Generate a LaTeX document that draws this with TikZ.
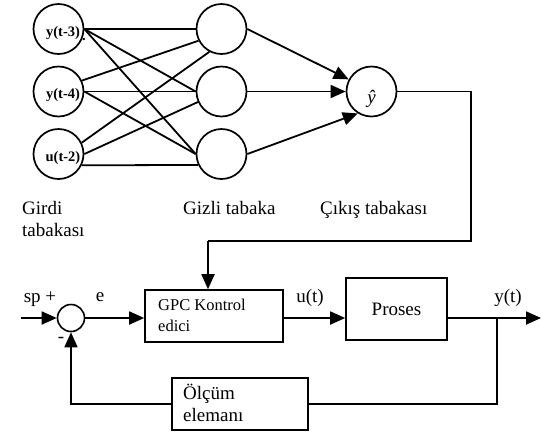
\documentclass[tikz,border=0pt]{standalone}
\usepackage{fontspec}
\setmainfont{Liberation Serif}
\usetikzlibrary{arrows.meta}
\begin{document}
\begin{tikzpicture}[x=1pt,y=-1pt,
  neuron/.style={draw,circle,line width=1.7pt,minimum size=50pt,inner sep=0pt},
  wire/.style={line width=1.8pt},
  arr/.style={line width=1.8pt,-{Triangle[length=15pt,width=13pt]}},
  blk/.style={draw,line width=1.6pt,inner sep=0pt},
  inlbl/.style={font=\fontsize{14.5}{16}\selectfont\bfseries,inner sep=0pt},
  lbl/.style={font=\fontsize{19}{22}\selectfont,inner sep=0pt,align=left},
]
\useasboundingbox (0,0) rectangle (541,432);
% input layer
\node[neuron] (i1) at (58.5,29) {};
\node[neuron] (i2) at (58.5,91.5) {};
\node[neuron] (i3) at (58.5,154) {};
\node[inlbl] (t1) at (63,33) {y(t-3)};
\node[inlbl] (t1dot) at (84,40) {.};
\node[inlbl] (t2) at (63,95) {y(t-4)};
\node[inlbl] (t3) at (63,158) {u(t-2)};
% hidden layer
\node[neuron] (h1) at (221.5,29) {};
\node[neuron] (h2) at (221.5,91.5) {};
\node[neuron] (h3) at (221.5,154) {};
% output
\node[neuron] (o) at (371.5,91.5) {};
\node[font=\fontsize{19}{22}\selectfont\itshape,inner sep=0pt] (yh) at (371.5,99) {ŷ};
% connections input->hidden
\draw[wire] (i1.east) -- (h1.west);
\draw[wire] (i1.east) -- (h2.west);
\draw[wire] (i1.east) -- (h3.west);
\draw[wire] (i2.25) -- (h1.207);
\draw[wire] (i2.east) -- (h2.west);
\draw[wire] (i2.east) -- (h3.west);
\draw[wire] (i3.26) -- (h1.242);
\draw[wire] (i3.east) -- (h2.204);
\draw[wire] (i3.334) -- (h3.205);
% hidden -> output
\draw[arr] (h1.east) -- (o.152);
\draw[arr] (h2.east) -- (o.west);
\draw[arr] (h3.east) -- (o.238);
% layer labels
\node[lbl,anchor=north west] (lg) at (22,201) {Girdi\\tabakası};
\node[lbl,anchor=north west] (lh) at (183,201) {Gizli tabaka};
\node[lbl,anchor=north west] (lc) at (320,201) {Çıkış tabakası};
% control loop
\node[draw,circle,line width=1.6pt,minimum size=27pt,inner sep=0pt] (s) at (71,318) {};
\node[blk,minimum width=138pt,minimum height=52pt] (gpc) at (214,316) {};
\node[font=\fontsize{16.5}{21}\selectfont,align=left,anchor=north west,inner sep=0pt] (gpct) at (158,299) {GPC Kontrol\\edici};
\node[blk,minimum width=101pt,minimum height=62pt,font=\fontsize{19}{22}\selectfont] (p) at (396.5,309) {Proses};
\node[blk,minimum width=136pt,minimum height=52pt] (m) at (240,404) {};
\node[lbl,anchor=north west] (mt) at (183,384) {Ölçüm\\elemanı};
\coordinate (sp) at (21,318);
\coordinate (yend) at (541,318);
\coordinate (br) at (497,318);
\coordinate (c1) at (471,91.5);
\coordinate (c2) at (471,241);
\coordinate (c3) at (208,241);
\coordinate (c4) at (497,404);
\coordinate (c5) at (71,404);
\draw[arr] (sp) -- (s.west);
\draw[arr] (s.east) -- (gpc.west |- s.east);
\draw[arr] (gpc.east |- s.east) -- (p.west |- s.east);
\draw[arr] (p.east |- s.east) -- (yend);
\draw[wire] (br) -- (c4) -- (m.east |- c4);
\draw[arr] (m.west |- c4) -- (c5) -- (s.south);
\draw[line width=1.5pt] (o.east) -- (c1) -- (c2) -- (c3);
\draw[arr] (c3) -- (c3 |- gpc.north);
% signal labels
\node[lbl] (lsp) at (40,299) {sp +};
\node[lbl] (le) at (100,297) {e};
\node[lbl] (lu) at (310,298) {u(t)};
\node[lbl] (ly) at (508,298) {y(t)};
\node[lbl] (lm) at (61,340) {-};
\end{tikzpicture}
\end{document}
